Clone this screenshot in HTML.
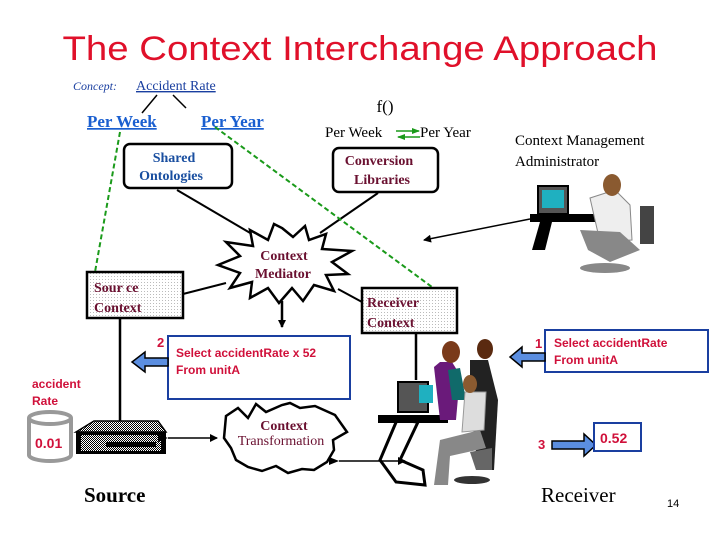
<!DOCTYPE html>
<html><head><meta charset="utf-8"><style>
html,body{margin:0;padding:0;background:#fff}
svg{display:block}
.s{font-family:"Liberation Serif",serif}
.a{font-family:"Liberation Sans",sans-serif}
</style></head><body>
<svg width="720" height="540" viewBox="0 0 720 540" xmlns="http://www.w3.org/2000/svg">
<defs>
<pattern id="dot" width="3" height="3" patternUnits="userSpaceOnUse"><rect width="3" height="3" fill="#fff"/><rect width="1" height="1" fill="#bbb"/></pattern>
<pattern id="dk" width="2" height="2" patternUnits="userSpaceOnUse"><rect width="2" height="2" fill="#fff"/><rect width="1" height="1" fill="#000"/><rect x="1" y="1" width="1" height="1" fill="#000"/></pattern>
<marker id="ah" markerWidth="8" markerHeight="8" refX="7" refY="4" orient="auto" markerUnits="userSpaceOnUse"><path d="M0,0 L8,4 L0,8 Z" fill="#000"/></marker>
<marker id="as" markerWidth="10" markerHeight="8" refX="0" refY="4" orient="auto-start-reverse" markerUnits="userSpaceOnUse"><path d="M0,4 L10,0 L10,8 Z" fill="#000"/></marker>
<marker id="ga" markerWidth="8" markerHeight="6" refX="7" refY="3" orient="auto" markerUnits="userSpaceOnUse"><path d="M0,0 L8,3 L0,6 Z" fill="#1a9a1a"/></marker>
</defs>
<text x="360" y="60" text-anchor="middle" class="a" font-size="34" fill="#e0102a" textLength="595" lengthAdjust="spacingAndGlyphs">The Context Interchange Approach</text>
<text x="73" y="90" class="s" font-size="12" font-style="italic" fill="#1a3fa0">Concept:</text>
<text x="136" y="90" class="s" font-size="14" fill="#1a3fa0" text-decoration="underline">Accident Rate</text>
<line x1="157" y1="95" x2="142" y2="113" stroke="#000" stroke-width="1.5"/>
<line x1="173" y1="95" x2="186" y2="108" stroke="#000" stroke-width="1.5"/>
<text x="87" y="127" class="s" font-size="17" font-weight="bold" fill="#1a5fd0" text-decoration="underline">Per Week</text>
<text x="201" y="127" class="s" font-size="17" font-weight="bold" fill="#1a5fd0" text-decoration="underline">Per Year</text>
<text x="385" y="112" text-anchor="middle" class="s" font-size="17">f()</text>
<text x="325" y="137" class="s" font-size="15">Per Week</text>
<text x="420" y="137" class="s" font-size="15">Per Year</text>
<line x1="396" y1="131" x2="419" y2="131" stroke="#1a9a1a" stroke-width="1.5" marker-end="url(#ga)"/>
<line x1="420" y1="137" x2="398" y2="137" stroke="#1a9a1a" stroke-width="1.5" marker-end="url(#ga)"/>
<text x="515" y="145" class="s" font-size="15">Context Management</text>
<text x="515" y="166" class="s" font-size="15">Administrator</text>
<rect x="124" y="144" width="108" height="44" rx="6" fill="#fff" stroke="#000" stroke-width="2.5"/>
<text x="174" y="162" text-anchor="middle" class="s" font-size="14" font-weight="bold" fill="#1a4fa0">Shared</text>
<text x="171" y="180" text-anchor="middle" class="s" font-size="14" font-weight="bold" fill="#1a4fa0">Ontologies</text>
<rect x="333" y="148" width="105" height="44" rx="6" fill="#fff" stroke="#000" stroke-width="2.5"/>
<text x="379" y="165" text-anchor="middle" class="s" font-size="14" font-weight="bold" fill="#6a1030">Conversion</text>
<text x="382" y="184" text-anchor="middle" class="s" font-size="14" font-weight="bold" fill="#6a1030">Libraries</text>
<line x1="177" y1="190" x2="257" y2="237" stroke="#000" stroke-width="2"/>
<line x1="378" y1="193" x2="320" y2="233" stroke="#000" stroke-width="2"/>
<line x1="120" y1="132" x2="95" y2="272" stroke="#1a9a1a" stroke-width="2" stroke-dasharray="5,3"/>
<line x1="215" y1="127" x2="432" y2="287" stroke="#1a9a1a" stroke-width="2" stroke-dasharray="5,3"/>
<line x1="530" y1="219" x2="424" y2="240" stroke="#000" stroke-width="1.5" marker-end="url(#ah)"/>
<polygon points="282,228 293,237 305,226 309,240 326,234 322,249 352,251 332,262 348,274 326,275 334,291 314,285 303,301 292,288 279,303 268,288 250,298 252,282 230,288 240,273 218,265 240,256 226,242 253,246 250,230 268,240 274,224" fill="#fff" stroke="#000" stroke-width="2.5"/>
<text x="284" y="260" text-anchor="middle" class="s" font-size="14" font-weight="bold" fill="#6a1030">Context</text>
<text x="283" y="278" text-anchor="middle" class="s" font-size="14" font-weight="bold" fill="#6a1030">Mediator</text>
<line x1="183" y1="294" x2="226" y2="283" stroke="#000" stroke-width="2"/>
<line x1="338" y1="289" x2="362" y2="302" stroke="#000" stroke-width="2"/>
<line x1="282" y1="301" x2="282" y2="327" stroke="#000" stroke-width="2.5" marker-end="url(#ah)"/>
<rect x="87" y="272" width="96" height="46" fill="url(#dot)" stroke="#000" stroke-width="2.5"/>
<text x="94" y="292" class="s" font-size="14" font-weight="bold" fill="#6a1030">Sour ce</text>
<text x="94" y="312" class="s" font-size="14" font-weight="bold" fill="#6a1030">Context</text>
<rect x="362" y="288" width="95" height="45" fill="url(#dot)" stroke="#000" stroke-width="2.5"/>
<text x="367" y="307" class="s" font-size="14" font-weight="bold" fill="#6a1030">Receiver</text>
<text x="367" y="327" class="s" font-size="14" font-weight="bold" fill="#6a1030">Context</text>
<line x1="120" y1="318" x2="120" y2="422" stroke="#000" stroke-width="2.5"/>
<line x1="416" y1="333" x2="416" y2="380" stroke="#000" stroke-width="2.5"/>
<rect x="168" y="336" width="182" height="63" fill="#fff" stroke="#1a3fa0" stroke-width="2"/>
<text x="176" y="357" class="a" font-size="12" font-weight="bold" fill="#d0103a">Select accidentRate x 52</text>
<text x="176" y="374" class="a" font-size="12" font-weight="bold" fill="#d0103a">From unitA</text>
<text x="157" y="347" class="a" font-size="13" font-weight="bold" fill="#d0103a">2</text>
<path d="M168,358 L145,358 L145,352 L132,362 L145,372 L145,366 L168,366 Z" fill="#5b8ee0" stroke="#000" stroke-width="1.5"/>
<text x="32" y="388" class="a" font-size="12" font-weight="bold" fill="#d0103a">accident</text>
<text x="32" y="405" class="a" font-size="12" font-weight="bold" fill="#d0103a">Rate</text>
<path d="M29,418 L29,455 A21,6 0 0 0 71,455 L71,418" fill="#fff" stroke="#999" stroke-width="4"/>
<ellipse cx="50" cy="418" rx="21" ry="6" fill="#fff" stroke="#999" stroke-width="4"/>
<text x="35" y="448" class="a" font-size="14" font-weight="bold" fill="#d0103a">0.01</text>
<path d="M76,432 L94,421 L158,421 L166,432 Z" fill="url(#dk)" stroke="#000" stroke-width="1.5"/>
<rect x="76" y="432" width="90" height="22" fill="#000"/>
<rect x="81" y="435" width="80" height="16" fill="url(#dk)"/>
<rect x="106" y="442" width="50" height="5" fill="#000"/>
<line x1="168" y1="438" x2="217" y2="438" stroke="#000" stroke-width="1.5" marker-start="url(#as)" marker-end="url(#ah)"/>
<path d="M226,416 L238,408 L248,418 L256,404 L266,412 L282,405 L290,403 L300,408 L315,406 L335,415 L347,432 L333,440 L334,450 L327,462 L314,470 L302,469 L288,473 L276,466 L262,471 L248,467 L236,460 L231,448 L224,438 Z" fill="#fff" stroke="#000" stroke-width="2.5"/>
<text x="284" y="430" text-anchor="middle" class="s" font-size="14" font-weight="bold" fill="#6a1030">Context</text>
<text x="281" y="445" text-anchor="middle" class="s" font-size="14" fill="#6a1030">Transformation</text>
<line x1="339" y1="461" x2="405" y2="461" stroke="#000" stroke-width="1.5" marker-start="url(#as)" marker-end="url(#ah)"/>
<!-- receiver people clipart -->
<g>
<polygon points="397,420 380,460 396,482 425,485 423,470 400,460 418,422" fill="none" stroke="#000" stroke-width="3"/>
<rect x="378" y="415" width="70" height="8" fill="#000"/>
<rect x="398" y="382" width="30" height="30" fill="#555" stroke="#000" stroke-width="2"/>
<rect x="419" y="385" width="14" height="18" fill="#1fb0c0"/>
<path d="M434,367 L440,362 L452,362 L460,375 L456,420 L440,420 Z" fill="#6a1a7a"/>
<path d="M448,370 L460,368 L466,400 L452,400 Z" fill="#106a6a"/>
<ellipse cx="451" cy="352" rx="9" ry="11" fill="#7a3a1a"/>
<path d="M470,360 L488,360 L498,400 L494,470 L478,470 L470,400 Z" fill="#222"/>
<ellipse cx="485" cy="349" rx="8" ry="10" fill="#5a2a10"/>
<path d="M465,392 L486,392 L484,430 L462,432 Z" fill="#ddd" stroke="#999"/>
<ellipse cx="470" cy="384" rx="7" ry="9" fill="#8a5a30"/>
<path d="M440,440 L480,430 L486,448 L450,456 L448,485 L434,485 Z" fill="#888"/>
<path d="M470,452 L492,448 L492,470 L476,470 Z" fill="#666"/>
<ellipse cx="472" cy="480" rx="18" ry="4" fill="#333"/>
</g>
<!-- admin clipart -->
<g>
<rect x="538" y="186" width="30" height="28" fill="#555" stroke="#000" stroke-width="2"/>
<rect x="542" y="190" width="22" height="18" fill="#1fb0c0"/>
<rect x="530" y="214" width="70" height="8" fill="#000"/>
<polygon points="540,222 532,250 545,250 552,222" fill="#000"/>
<path d="M590,198 L615,190 L630,205 L632,240 L600,242 Z" fill="#eee" stroke="#888"/>
<ellipse cx="612" cy="185" rx="9" ry="11" fill="#8a5a30"/>
<path d="M580,230 L620,232 L640,250 L610,262 L588,250 Z" fill="#888"/>
<rect x="640" y="206" width="14" height="38" fill="#444"/>
<ellipse cx="605" cy="268" rx="25" ry="5" fill="#888"/>
</g>
<rect x="545" y="330" width="163" height="42" fill="#fff" stroke="#1a3fa0" stroke-width="2"/>
<text x="554" y="347" class="a" font-size="12" font-weight="bold" fill="#d0103a">Select accidentRate</text>
<text x="554" y="364" class="a" font-size="12" font-weight="bold" fill="#d0103a">From unitA</text>
<text x="535" y="348" class="a" font-size="13" font-weight="bold" fill="#d0103a">1</text>
<path d="M545,353 L522,353 L522,347 L510,357 L522,367 L522,361 L545,361 Z" fill="#5b8ee0" stroke="#000" stroke-width="1.5"/>
<text x="538" y="449" class="a" font-size="13" font-weight="bold" fill="#d0103a">3</text>
<path d="M552,441 L584,441 L584,434 L596,445 L584,456 L584,449 L552,449 Z" fill="#5b8ee0" stroke="#000" stroke-width="1.5"/>
<rect x="594" y="423" width="47" height="28" fill="#fff" stroke="#1a3fa0" stroke-width="2"/>
<text x="600" y="443" class="a" font-size="14" font-weight="bold" fill="#d0103a">0.52</text>
<text x="84" y="502" class="s" font-size="21" font-weight="bold">Source</text>
<text x="541" y="502" class="s" font-size="21">Receiver</text>
<text x="667" y="507" class="a" font-size="11">14</text>
</svg>
</body></html>
